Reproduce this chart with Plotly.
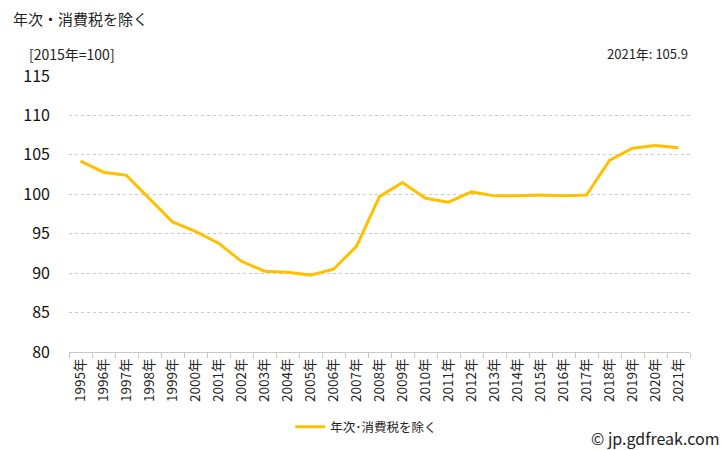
import plotly.graph_objects as go

years = [f"{y}年" for y in range(1995, 2022)]
values = [104.2, 102.8, 102.4, 99.5, 96.5, 95.3, 93.8, 91.5, 90.25, 90.1,
          89.75, 90.5, 93.4, 99.7, 101.5, 99.5, 99.0, 100.3, 99.8, 99.8,
          99.9, 99.8, 99.9, 104.3, 105.85, 106.2, 105.9]
series_name = "年次･消費税を除く"
title_text = "年次・消費税を除く"
unit_text = "[2015年=100]"
last_text = "2021年: 105.9"

font_jp = "Noto Sans CJK JP"

fig = go.Figure()
fig.add_trace(go.Scatter(
    x=years,
    y=values,
    mode="lines",
    name=series_name,
    line=dict(color="#FFC000", width=3),
))

fig.update_layout(
    width=728,
    height=450,
    margin=dict(l=69, r=38, t=76, b=98),
    paper_bgcolor="white",
    plot_bgcolor="white",
    font=dict(family=font_jp, color="#222222"),
    showlegend=True,
    legend=dict(
        orientation="h",
        xref="container", yref="container",
        x=0.503, xanchor="center",
        y=0.051, yanchor="middle",
        font=dict(size=12.5),
        itemwidth=30,
    ),
    xaxis=dict(
        type="category",
        range=[-0.5, len(years) - 0.5],
        tickangle=-90,
        tickfont=dict(size=13.5),
        showline=True,
        linecolor="#c8c8c8",
        linewidth=1,
        ticks="outside",
        tickson="boundaries",
        ticklen=5,
        tickcolor="#c8c8c8",
        showgrid=False,
        automargin=False,
    ),
    yaxis=dict(
        range=[80, 115],
        dtick=5,
        tickfont=dict(size=16, color="#111111"),
        showgrid=True,
        gridcolor="#c8c8c8",
        griddash="dot",
        gridwidth=1,
        zeroline=False,
        showline=False,
        ticks="",
        ticklabelstandoff=18,
        automargin=False,
    ),
    annotations=[
        dict(text=title_text, xref="paper", yref="paper", x=-0.093, y=1.207,
             xanchor="left", yanchor="middle", showarrow=False,
             font=dict(size=15, family=font_jp)),
        dict(text=unit_text, xref="paper", yref="paper", x=-0.068, y=1.08,
             xanchor="left", yanchor="middle", showarrow=False,
             font=dict(size=14, family=font_jp)),
        dict(text=last_text, xref="paper", yref="paper", x=1.0, y=1.08,
             xanchor="right", yanchor="middle", showarrow=False,
             font=dict(size=13, family=font_jp)),
        dict(text="© jp.gdfreak.com", xref="paper", yref="paper", x=1.052, y=-0.31,
             xanchor="right", yanchor="middle", showarrow=False,
             font=dict(size=16, family=font_jp)),
    ],
)

fig.write_html("out.html", config={"displayModeBar": False},
               post_script="document.body.style.margin='0';")
